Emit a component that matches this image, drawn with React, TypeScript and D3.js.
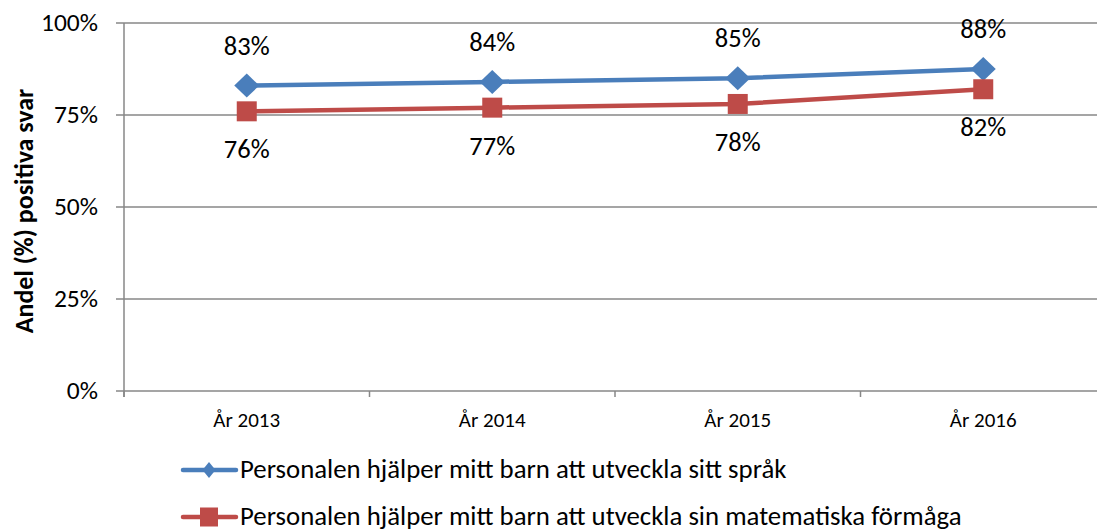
import { scaleBand, scaleLinear, line } from 'd3';

const categories = ['År 2013', 'År 2014', 'År 2015', 'År 2016'];
const sprakValues = [0.83, 0.84, 0.85, 0.875];
const sprakLabels = ['83%', '84%', '85%', '88%'];
const matteValues = [0.76, 0.77, 0.78, 0.82];
const matteLabels = ['76%', '77%', '78%', '82%'];
const yTicks = [0, 0.25, 0.5, 0.75, 1];
const seriesNames = [
  'Personalen hjälper mitt barn att utveckla sitt språk',
  'Personalen hjälper mitt barn att utveckla sin matematiska förmåga',
];

const width = 1097;
const height = 529;
const margin = { top: 23, left: 124, bottom: 391, right: 1106 };
const font = "Carlito, 'Open Sans', 'Liberation Sans', sans-serif";
const blue = '#4a7ebb';
const red = '#be4b48';
const grid = '#878787';

export default function App() {
  const x = scaleBand<string>().domain(categories).range([margin.left, margin.right]);
  const y = scaleLinear().domain([0, 1]).range([margin.bottom, margin.top]);
  const cx = (c: string) => (x(c) ?? 0) + x.bandwidth() / 2;

  const path = line<number>()
    .x((_, i) => cx(categories[i]))
    .y(v => y(v));

  const diamond = (px: number, py: number, rx: number, ry: number) =>
    `M${px},${py - ry}L${px + rx},${py}L${px},${py + ry}L${px - rx},${py}Z`;

  const bounds = [...categories.map(c => x(c) ?? 0), margin.right];

  return (
    <div style={{ position: 'absolute', left: 0, top: 0 }}>
      <svg width={width} height={height} style={{ display: 'block', background: '#fff' }} fontFamily={font}>
        {yTicks.map(t => (
          <g key={t}>
            <line x1={margin.left - 8} x2={margin.right} y1={y(t)} y2={y(t)} stroke={grid} strokeWidth={1.5} />
            <text x={margin.left - 26} y={y(t) + 8} textAnchor="end" fontSize={25.5} fill="#000">
              {Math.round(t * 100)}%
            </text>
          </g>
        ))}
        <line x1={margin.left} x2={margin.left} y1={margin.top} y2={margin.bottom + 6} stroke={grid} strokeWidth={1.5} />
        {bounds.map((b, i) => (
          <line key={i} x1={b} x2={b} y1={margin.bottom} y2={margin.bottom + 6} stroke={grid} strokeWidth={1.5} />
        ))}
        {categories.map(c => (
          <text key={c} x={cx(c)} y={427} textAnchor="middle" fontSize={21} fill="#000">
            {c}
          </text>
        ))}
        <text
          transform={`translate(33, ${(margin.top + margin.bottom) / 2 + 4}) rotate(-90)`}
          textAnchor="middle"
          fontSize={26}
          fontWeight="bold"
          fill="#000"
        >
          Andel (%) positiva svar
        </text>

        <path d={path(sprakValues) ?? ''} fill="none" stroke={blue} strokeWidth={4.5} />
        <path d={path(matteValues) ?? ''} fill="none" stroke={red} strokeWidth={4.5} />
        {sprakValues.map((v, i) => (
          <g key={`s${i}`}>
            <path d={diamond(cx(categories[i]), y(v), 12.5, 12)} fill={blue} />
            <text x={cx(categories[i])} y={y(v) - 31} textAnchor="middle" fontSize={26.5} fill="#000">
              {sprakLabels[i]}
            </text>
          </g>
        ))}
        {matteValues.map((v, i) => (
          <g key={`m${i}`}>
            <rect x={cx(categories[i]) - 10} y={y(v) - 10} width={20} height={20} fill={red} />
            <text x={cx(categories[i])} y={y(v) + 47} textAnchor="middle" fontSize={26.5} fill="#000">
              {matteLabels[i]}
            </text>
          </g>
        ))}

        {seriesNames.map((name, i) => {
          const ly = 470 + i * 47;
          const color = i === 0 ? blue : red;
          return (
            <g key={name}>
              <line x1={183} x2={236} y1={ly} y2={ly} stroke={color} strokeWidth={4.5} strokeLinecap="round" />
              {i === 0 ? (
                <path d={diamond(209, ly, 6.5, 8)} fill={color} />
              ) : (
                <rect x={200} y={ly - 9.5} width={18} height={19} fill={color} />
              )}
              <text x={240} y={ly + 8} fontSize={26.8} fill="#000">
                {name}
              </text>
            </g>
          );
        })}
      </svg>
    </div>
  );
}
